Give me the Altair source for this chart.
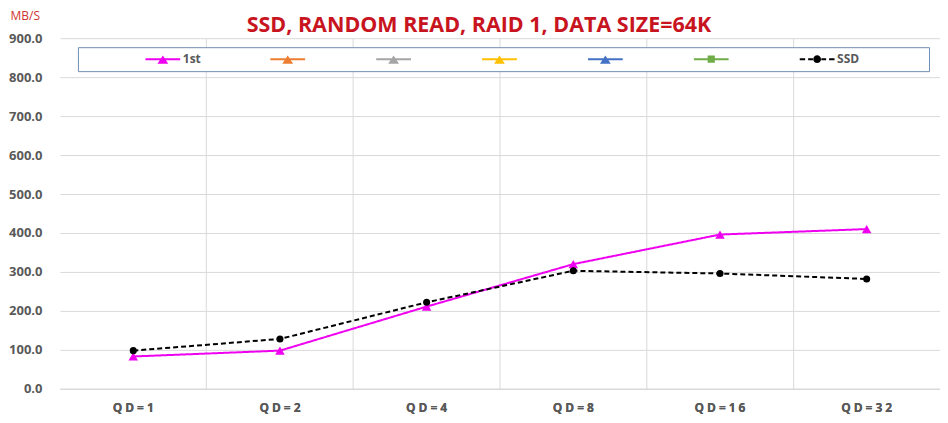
import altair as alt
import pandas as pd

categories = ["QD=1", "QD=2", "QD=4", "QD=8", "QD=16", "QD=32"]
first_vals = [83, 98, 211, 320, 396, 410]
ssd_vals = [98, 128, 222, 303, 296, 282]
series_names = ["1st", "s2", "s3", "s4", "s5", "s6", "SSD"]
series_colors = ["#f000f0", "#ed7d31", "#a5a5a5", "#ffc000", "#4472c4", "#70ad47", "#000000"]
y_ticks = [0, 100, 200, 300, 400, 500, 600, 700, 800, 900]

rows = []
for c, v in zip(categories, first_vals):
    rows.append({"qd": c, "series": "1st", "value": v})
for c, v in zip(categories, ssd_vals):
    rows.append({"qd": c, "series": "SSD", "value": v})
df = pd.DataFrame(rows)

FONT = "Open Sans"
GRID = "#d9d9d9"

bar_path = "M-2.9,-0.17H2.9V0.17H-2.9Z"
tri_path = bar_path + "M-0.9,0.75L0,-0.6L0.9,0.75Z"
sq_path = bar_path + "M-0.6,-0.6H0.6V0.6H-0.6Z"
ssd_path = ("M-2.9,-0.17H-2.0V0.17H-2.9Z"
            "M-1.5,-0.17H-0.7V0.17H-1.5Z"
            "M0.7,-0.17H1.5V0.17H0.7Z"
            "M2.0,-0.17H2.9V0.17H2.0Z"
            "M0.65,0A0.65,0.65 0 1,1 -0.65,0A0.65,0.65 0 1,1 0.65,0Z")
legend_shapes = [tri_path, tri_path, tri_path, tri_path, tri_path, sq_path, ssd_path]

EM = "\u2003"
legend = alt.Legend(
    orient="none", legendX=18, legendY=9, direction="horizontal", columns=7,
    title=" ", titleOrient="left", titlePadding=73, titleFontSize=10,
    columnPadding=68, symbolSize=144, symbolStrokeWidth=0, symbolOpacity=1, labelOffset=14,
    labelFont=FONT, labelFontSize=12, labelFontWeight="bold", labelColor="#595959",
    padding=6, strokeColor="#6f8fb3", fillColor="white",
    labelExpr="datum.label === 'SSD' ? 'SSD" + EM * 5 + "\u2005\u200b' : (datum.label === '1st' ? '1st' : '')",
)

xscale = alt.Scale(type="band", domain=categories, paddingInner=0, paddingOuter=0)
yscale = alt.Scale(domain=[0, 900], nice=False)

y_axis = alt.Axis(
    values=y_ticks, format=".1f", grid=True, gridColor=GRID, domain=False, ticks=False,
    labelPadding=18, labelFont=FONT, labelFontSize=13, labelFontWeight="bold", labelColor="#595959",
    title="MB/S", titleAngle=0, titleAlign="left", titleBaseline="middle", titleX=-50, titleY=-23,
    titleFont=FONT, titleFontSize=12, titleFontWeight="normal", titleColor="#d0312d",
)

cscale = alt.Scale(domain=series_names, range=series_colors)
color = alt.Color("series:N", scale=cscale, legend=legend)
bottom_axis = alt.Axis(
    orient="bottom", grid=False, ticks=False, domain=True, domainColor=GRID,
    labelPadding=14, labelFont=FONT, labelFontSize=12, labelFontWeight="bold",
    labelColor="#595959", labelAngle=0, title=None,
    labelExpr="join(split(datum.label, ''), '\u2005')")

legend_layer = alt.Chart(df).mark_point(filled=True, opacity=0).encode(
    x=alt.X("qd:N", scale=xscale, axis=None),
    y=alt.Y("value:Q", scale=yscale, axis=y_axis),
    color=color,
    shape=alt.Shape("series:N", scale=alt.Scale(domain=series_names, range=legend_shapes), legend=legend),
)

lines = alt.Chart(df).mark_line(strokeWidth=2).encode(
    x=alt.X("qd:N", scale=xscale, axis=alt.Axis(
        orient="top", grid=True, gridColor=GRID, bandPosition=1, labels=False,
        ticks=False, domain=False, title=None)),
    y=alt.Y("value:Q", scale=yscale, axis=y_axis),
    color=color,
    strokeDash=alt.StrokeDash("series:N", scale=alt.Scale(domain=["1st", "SSD"], range=[[1, 0], [5, 3]]), legend=None),
)

tri_points = alt.Chart(df).transform_filter(alt.datum.series == "1st").mark_point(
    filled=True, opacity=1, shape="triangle-up", size=90).encode(
    x=alt.X("qd:N", scale=xscale, axis=bottom_axis),
    y=alt.Y("value:Q", scale=yscale, axis=y_axis),
    color=color,
)

dot_points = alt.Chart(df).transform_filter(alt.datum.series == "SSD").mark_point(
    filled=True, opacity=1, shape="circle", size=50).encode(
    x=alt.X("qd:N", scale=xscale, axis=bottom_axis),
    y=alt.Y("value:Q", scale=yscale, axis=y_axis),
    color=color,
)

chart = alt.layer(legend_layer, lines, tri_points, dot_points).resolve_axis(x="independent").properties(
    width=881, height=351,
    autosize=alt.AutoSizeParams(type="none"),
    padding={"left": 52, "top": 30, "right": 0, "bottom": 27},
    title=alt.TitleParams(
        text="SSD, RANDOM READ, RAID 1, DATA SIZE=64K", font=FONT, fontSize=21.5,
        fontWeight="bold", color="#c8141e", anchor="middle", dx=-21, offset=-27),
).configure_view(stroke=None)

chart.save("out.html", embed_options={"renderer": "svg", "actions": False})
